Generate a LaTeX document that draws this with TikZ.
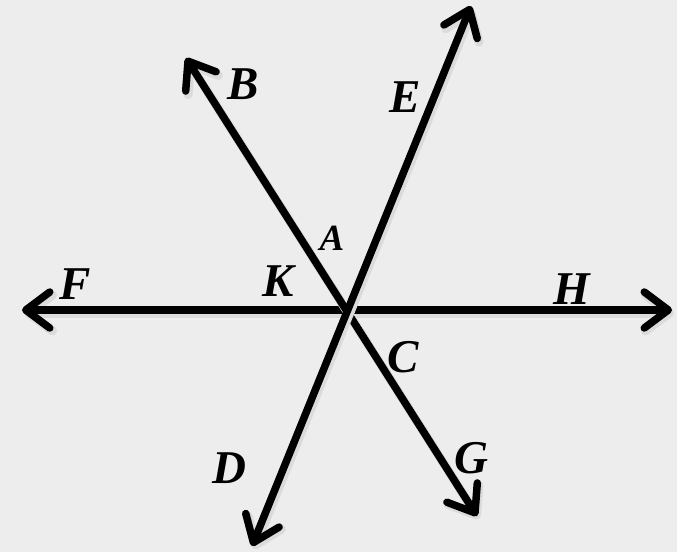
\documentclass[tikz,border=0pt]{standalone}
\usepackage{fontspec}
\setmainfont{Liberation Serif}
\usetikzlibrary{arrows.meta}
\definecolor{paper}{RGB}{237,237,237}

\begin{document}
\begin{tikzpicture}[x=1pt, y=-1pt,
    ray/.style={{Straight Barb[length=24pt, width=36pt, round]}-{Straight Barb[length=24pt, width=36pt, round]},
                line width=7.5pt, line cap=round,
                preaction={draw=black!14, line width=9pt,
                           transform canvas={shift={(2pt,-3pt)}}}},
    lbl/.style={font=\fontsize{47}{50}\selectfont\bfseries\itshape,
                inner sep=0pt},
    lbls/.style={font=\fontsize{37}{40}\selectfont\bfseries\itshape,
                 inner sep=0pt}
  ]
  \useasboundingbox[fill=paper] (0,0) rectangle (677,552);
  %% --- ray ends ---
  \coordinate (O)  at (347,310);
  \coordinate (Ft) at (22,310);
  \coordinate (Ht) at (672,310);
  \coordinate (Bt) at (186,58);
  \coordinate (Gt) at (477,516);
  \coordinate (Et) at (471,6);
  \coordinate (Dt) at (252,546);
  % Lines through O
  \draw[ray] (Ft) -- (Ht);
  \draw[ray] (Bt) -- (Gt);
  \draw[ray] (Et) -- (Dt);
  %% --- labels ---
  \node[lbl]  (B) at (243,84)  {B};
  \node[lbl]  (E) at (405,97)  {E};
  \node[lbls] (A) at (332,238) {A};
  \node[lbl]  (K) at (278,281) {K};
  \node[lbl]  (F) at (75,284)  {F};
  \node[lbl]  (H) at (572,289) {H};
  \node[lbl]  (C) at (403,357) {C};
  \node[lbl]  (G) at (471,458) {G};
  \node[lbl]  (D) at (229,468) {D};
\end{tikzpicture}
\end{document}
